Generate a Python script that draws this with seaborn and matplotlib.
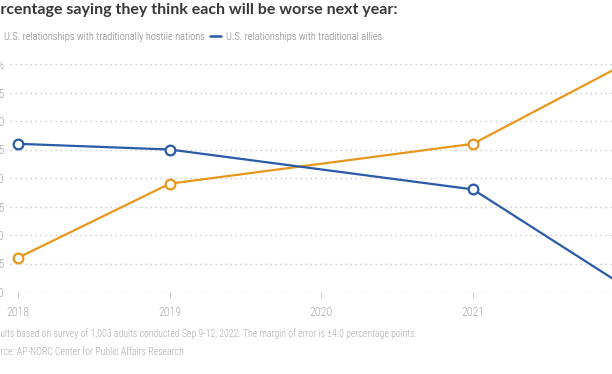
import numpy as np
import pandas as pd
import matplotlib
matplotlib.use("Agg")
import matplotlib.pyplot as plt
import seaborn as sns

# AP-NORC: share saying each will be worse next year
years = [2018, 2019, 2021, 2022]
hostile = [26, 39, 46, 60]
allies = [46, 45, 38, 21]
series_names = ["U.S. relationships with traditionally hostile nations",
                "U.S. relationships with traditional allies"]
yticks = [20, 25, 30, 35, 40, 45, 50, 55, 60]
ytick_labels = ["20", "25", "30", "35", "40", "45", "50", "55", "60%"]
xticks = [2018, 2019, 2020, 2021, 2022]

df = pd.DataFrame({
    "year": years * 2,
    "pct": hostile + allies,
    "series": [series_names[0]] * 4 + [series_names[1]] * 4,
})

sns.set_style("white")
plt.rcParams['font.family'] = ['Roboto Condensed', 'DejaVu Sans']
plt.rcParams['font.stretch'] = 'condensed'

W, H = 612, 374
fig = plt.figure(figsize=(W / 100, H / 100), dpi=100)
# axes deliberately run past the right edge (the picture is a crop)
ax = fig.add_axes([10 / W, 82 / H, 630 / W, 228 / H])

colors = {series_names[0]: "#e8971e", series_names[1]: "#2a5ba8"}
sns.lineplot(data=df, x="year", y="pct", hue="series", palette=colors,
             marker="o", markersize=7, markeredgewidth=1.6, linewidth=1.6,
             ax=ax, legend=False, clip_on=False, zorder=3)
for ln in ax.lines:
    ln.set_markeredgecolor(ln.get_color())
    ln.set_markerfacecolor("white")

ax.set_xlim(2018 - 8 / 151.67, 2018 + 622 / 151.67)
ax.set_ylim(20, 60)
ax.set_yticks(yticks)
ax.set_yticklabels(ytick_labels)
ax.set_xticks(xticks)
ax.set_xticklabels([str(x) for x in xticks])
ax.set_xlabel("")
ax.set_ylabel("")
for s in ax.spines.values():
    s.set_visible(False)
ax.grid(axis="y", color="#c8c8c8", linestyle=(0, (1, 2.6)), linewidth=1)
ax.grid(axis="x", visible=False)
ax.tick_params(axis="y", length=0, pad=4, labelsize=8.5, labelcolor="#aaaaaa")
ax.tick_params(axis="x", length=4, width=0.8, color="#cccccc", pad=6,
               labelsize=8.5, labelcolor="#aaaaaa", bottom=True)
for lab in ax.get_xticklabels() + ax.get_yticklabels():
    lab.set_fontweight("light")

fig.text(-18.5 / W, 1 - 10 / H, "Percentage saying they think each will be worse next year:",
         family=["Lato", "DejaVu Sans"], fontsize=11.5, fontweight="bold",
         color="#383838", va="center", ha="left")

handles = [plt.Line2D([], [], color=colors[n], linewidth=1.8) for n in series_names]
fig.legend(handles, series_names, loc="center left", ncol=2,
           bbox_to_anchor=(-12.6 / W, 1 - 37 / H), frameon=False,
           handlelength=1.05, handletextpad=0.5, columnspacing=0.55,
           prop={"size": 7.5, "weight": "light"}, labelcolor="#808080",
           borderaxespad=0, borderpad=0)

fig.text(-14 / W, 1 - 334 / H,
         "Results based on survey of 1,003 adults conducted Sep 9-12, 2022. The margin of error is \u00b14.0 percentage points.",
         fontsize=7, fontweight="light", color="#aaaaaa", va="center", ha="left")
fig.text(-14 / W, 1 - 352 / H, "Source: AP-NORC Center for Public Affairs Research",
         fontsize=7, fontweight="light", color="#aaaaaa", va="center", ha="left")

fig.savefig("out.png", dpi=100)
